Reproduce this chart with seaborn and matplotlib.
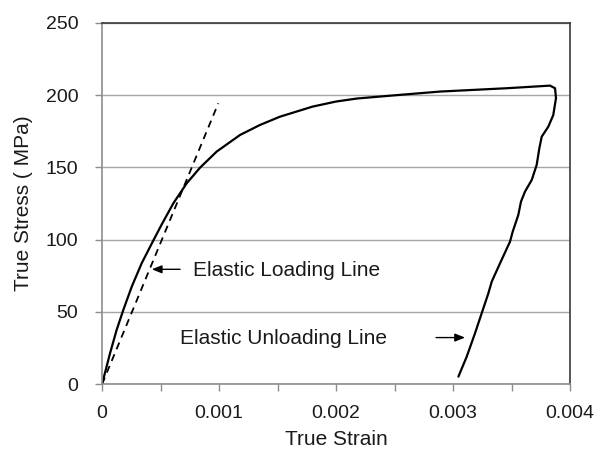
import matplotlib
matplotlib.use("Agg")
import matplotlib.pyplot as plt
from matplotlib.ticker import MultipleLocator, FixedLocator, FixedFormatter
import seaborn as sns
import pandas as pd

# Measured true stress-strain response: loading, plateau, then unloading
strain = [0.0, 0.0000684, 0.000125, 0.000182, 0.000254, 0.000339, 0.000439,
          0.00051, 0.00061, 0.000724, 0.000838, 0.00098, 0.00118, 0.00135,
          0.00152, 0.0018, 0.002, 0.00218, 0.0025, 0.002889, 0.003459, 0.003829,
          0.003872, 0.00388, 0.003857, 0.003815, 0.003758, 0.003738, 0.003715,
          0.003673, 0.003615, 0.003581, 0.003558, 0.00351, 0.003487, 0.003402,
          0.003331, 0.003302, 0.003245, 0.003188, 0.003117, 0.003046]
stress = [0.0, 21.4, 37.6, 51.4, 67.5, 83.7, 99.5,
          110.5, 125.2, 139.0, 149.8, 160.9, 172.4, 179.3,
          185.0, 192.0, 195.5, 197.6, 199.8, 202.4, 204.7, 206.5,
          204.7, 197.8, 186.2, 178.2, 171.2, 163.2, 151.7,
          141.3, 133.2, 126.3, 117.1, 105.5, 98.6, 83.7,
          71.0, 62.9, 49.1, 35.3, 19.1, 5.3]

# Elastic loading line (dashed)
elastic_strain = [0.0, 0.000994]
elastic_stress = [0.0, 194.3]

x_ticks = [0, 0.001, 0.002, 0.003, 0.004]
x_tick_labels = ["0", "0.001", "0.002", "0.003", "0.004"]
y_ticks = [0, 50, 100, 150, 200, 250]

sns.set_theme(style="white")
plt.rcParams["font.family"] = ["Liberation Sans", "DejaVu Sans"]

fig = plt.figure(figsize=(5.98, 4.57), dpi=100)
ax = fig.add_axes([0.1706, 0.1591, 0.7826, 0.7912])

curve = pd.DataFrame({"strain": strain, "stress": stress})
line = pd.DataFrame({"strain": elastic_strain, "stress": elastic_stress})

sns.lineplot(data=curve, x="strain", y="stress", sort=False, estimator=None,
             color="black", linewidth=1.6, ax=ax)
sns.lineplot(data=line, x="strain", y="stress", sort=False, estimator=None,
             color="black", linewidth=1.3, linestyle=(0, (4, 3)), ax=ax)

ax.set_xlim(0, 0.004)
ax.set_ylim(0, 250)
ax.xaxis.set_major_locator(FixedLocator(x_ticks))
ax.xaxis.set_major_formatter(FixedFormatter(x_tick_labels))
ax.xaxis.set_minor_locator(MultipleLocator(0.0005))
ax.yaxis.set_major_locator(FixedLocator(y_ticks))

ax.grid(axis="y", color="#a6a6a6", linewidth=1.0)
ax.set_axisbelow(True)

for side in ("left", "bottom"):
    ax.spines[side].set_color("#8c8c8c")
    ax.spines[side].set_linewidth(1.2)
for side in ("top", "right"):
    ax.spines[side].set_color("#3a3a3a")
    ax.spines[side].set_linewidth(1.2)

ax.tick_params(axis="both", which="both", direction="out", length=5,
               width=1.0, color="#8c8c8c", labelcolor="#1a1a1a", labelsize=14)
ax.tick_params(axis="x", which="both", bottom=True, pad=10)
ax.tick_params(axis="y", which="both", left=True, pad=12)

ax.set_xlabel("True Strain", fontsize=15, color="#1a1a1a", labelpad=6)
ax.set_ylabel("True Stress ( MPa)", fontsize=15, color="#1a1a1a", labelpad=9)

arrow = dict(arrowstyle="-|>,head_length=0.5,head_width=0.2", color="black",
             linewidth=1.0, shrinkA=0, shrinkB=0)
ax.annotate("", xy=(0.000425, 79.5), xytext=(0.000667, 79.5), arrowprops=arrow)
ax.text(0.000778, 78.5, "Elastic Loading Line", fontsize=15, color="#1a1a1a",
        va="center", ha="left")
ax.annotate("", xy=(0.003103, 32.3), xytext=(0.002855, 32.3), arrowprops=arrow)
ax.text(0.000667, 31.5, "Elastic Unloading Line", fontsize=15, color="#1a1a1a",
        va="center", ha="left")

fig.savefig("out.png", dpi=100)
